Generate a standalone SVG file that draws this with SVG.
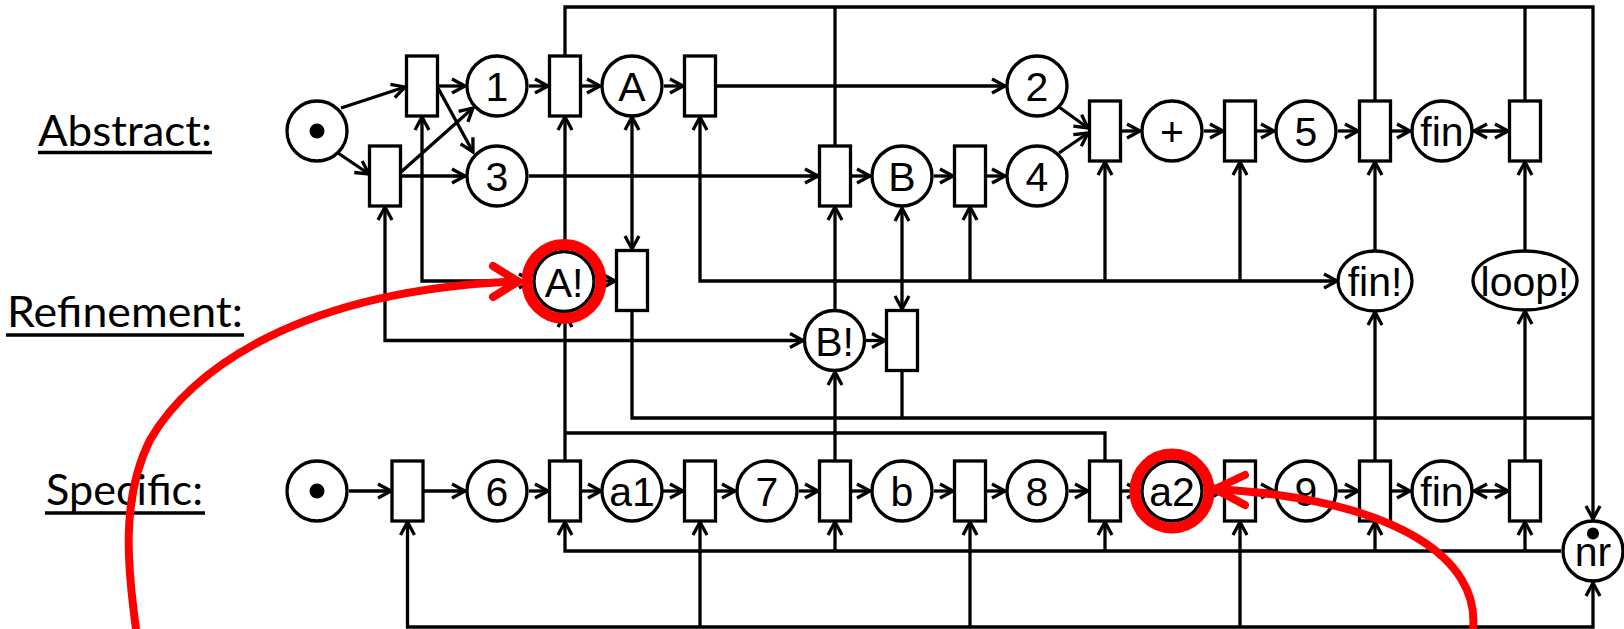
<svg xmlns="http://www.w3.org/2000/svg" width="1624" height="629" viewBox="0 0 1624 629">
<style>
.t{fill:#fff;stroke:#000;stroke-width:3.3}
.p{fill:#fff;stroke:#000;stroke-width:3.3}
.c{fill:none;stroke:#000;stroke-width:3.3}
.l{font-family:"Liberation Sans",Arial,sans-serif;font-size:41px;text-anchor:middle;fill:#000}
.hd{font-family:Lato,"Open Sans",sans-serif;font-size:42px;fill:#000}
.ul{stroke:#000;stroke-width:3.5}
.r{fill:none;stroke:#f00;stroke-width:11}
.rc{fill:none;stroke:#f00;stroke-width:8;stroke-linecap:round;stroke-linejoin:round}
</style>
<defs>
<marker id="a" viewBox="-16 -10 20 20" refX="0" refY="0" markerWidth="20" markerHeight="20" markerUnits="userSpaceOnUse" orient="auto-start-reverse" overflow="visible">
<path d="M-13,-7 L0,0 L-13,7" fill="none" stroke="#000" stroke-width="3.3"/>
</marker>
</defs>
<rect width="1624" height="629" fill="#fff"/>

<g id="labels">
<text class="hd" x="38" y="146" textLength="174" lengthAdjust="spacingAndGlyphs">Abstract:</text>
<line class="ul" x1="38" y1="152.5" x2="212" y2="152.5"/>
<text class="hd" x="7" y="327" textLength="236" lengthAdjust="spacingAndGlyphs">Refinement:</text>
<line class="ul" x1="6" y1="335" x2="244" y2="335"/>
<text class="hd" x="46" y="505" textLength="157" lengthAdjust="spacingAndGlyphs">Specific:</text>
<line class="ul" x1="45" y1="513" x2="205" y2="513"/>
</g>

<g id="connectors" class="c">
<path d="M341,108 L405,87" marker-end="url(#a)"/>
<path d="M338,153 L369,174" marker-end="url(#a)"/>
<path d="M438,86 H465" marker-end="url(#a)"/>
<path d="M438,88 L473,152" marker-end="url(#a)"/>
<path d="M401,172 L473,108" marker-end="url(#a)"/>
<path d="M401,176 H465" marker-end="url(#a)"/>
<path d="M529,86 H548" marker-end="url(#a)"/>
<path d="M581,86 H600" marker-end="url(#a)"/>
<path d="M664,86 H683" marker-end="url(#a)"/>
<path d="M716,86 H1005" marker-end="url(#a)"/>
<path d="M529,176 H818" marker-end="url(#a)"/>
<path d="M851,176 H870" marker-end="url(#a)"/>
<path d="M934,176 H953" marker-end="url(#a)"/>
<path d="M986,176 H1005" marker-end="url(#a)"/>
<path d="M1059,107 L1088,128" marker-end="url(#a)"/>
<path d="M1059,153 L1088,133" marker-end="url(#a)"/>
<path d="M1121,131 H1140" marker-end="url(#a)"/>
<path d="M1204,131 H1223" marker-end="url(#a)"/>
<path d="M1256,131 H1274" marker-end="url(#a)"/>
<path d="M1338,131 H1358" marker-end="url(#a)"/>
<path d="M1391,131 H1410" marker-end="url(#a)"/>
<path d="M1474,131 H1508" marker-start="url(#a)" marker-end="url(#a)"/>

<path d="M565,56 V7 H1593 V519" marker-end="url(#a)"/>
<path d="M835,146 V7"/>
<path d="M1375,101 V7"/>
<path d="M1525,101 V7"/>

<path d="M422,117 V281 H532" marker-start="url(#a)" marker-end="url(#a)"/>
<path d="M385,207 V340.5 H803" marker-start="url(#a)" marker-end="url(#a)"/>
<path d="M565,250 V117" marker-end="url(#a)"/>
<path d="M565,460 V314" marker-end="url(#a)"/>
<path d="M565,433 H1105 V460"/>
<path d="M632,117 V249" marker-start="url(#a)" marker-end="url(#a)"/>
<path d="M596,281 H615" marker-end="url(#a)"/>
<path d="M632,311 V418 H1593"/>
<path d="M700,117 V281 H1337" marker-start="url(#a)" marker-end="url(#a)"/>
<path d="M970,281 V207" marker-end="url(#a)"/>
<path d="M1105,281 V162" marker-end="url(#a)"/>
<path d="M1240,281 V162" marker-end="url(#a)"/>
<path d="M835,309 V207" marker-end="url(#a)"/>
<path d="M902,208 V309" marker-start="url(#a)" marker-end="url(#a)"/>
<path d="M866,340.5 H885" marker-end="url(#a)"/>
<path d="M902,372 V418"/>
<path d="M835,460 V372" marker-end="url(#a)"/>
<path d="M1375,250 V162" marker-end="url(#a)"/>
<path d="M1525,251 V162" marker-end="url(#a)"/>
<path d="M1375,460 V312" marker-end="url(#a)"/>
<path d="M1525,460 V311" marker-end="url(#a)"/>

<path d="M349,491 H391" marker-end="url(#a)"/>
<path d="M424,491 H465" marker-end="url(#a)"/>
<path d="M529,491 H548" marker-end="url(#a)"/>
<path d="M581,491 H601" marker-end="url(#a)"/>
<path d="M663,491 H683" marker-end="url(#a)"/>
<path d="M716,491 H735" marker-end="url(#a)"/>
<path d="M799,491 H818" marker-end="url(#a)"/>
<path d="M851,491 H870" marker-end="url(#a)"/>
<path d="M934,491 H953" marker-end="url(#a)"/>
<path d="M986,491 H1005" marker-end="url(#a)"/>
<path d="M1069,491 H1088" marker-end="url(#a)"/>
<path d="M1121,491 H1140" marker-end="url(#a)"/>
<path d="M1204,491 H1223" marker-end="url(#a)"/>
<path d="M1256,491 H1274" marker-end="url(#a)"/>
<path d="M1338,491 H1358" marker-end="url(#a)"/>
<path d="M1391,491 H1410" marker-end="url(#a)"/>
<path d="M1474,491 H1508" marker-start="url(#a)" marker-end="url(#a)"/>

<path d="M1561,551 H565 V522" marker-end="url(#a)"/>
<path d="M835,551 V522" marker-end="url(#a)"/>
<path d="M1105,551 V522" marker-end="url(#a)"/>
<path d="M1375,551 V522" marker-end="url(#a)"/>
<path d="M1525,551 V522" marker-end="url(#a)"/>
<path d="M407.5,522 V627 H1593 V583" marker-start="url(#a)" marker-end="url(#a)"/>
<path d="M700,627 V522" marker-end="url(#a)"/>
<path d="M970,627 V522" marker-end="url(#a)"/>
<path d="M1240,627 V522" marker-end="url(#a)"/>
</g>

<g id="abs-start"><circle class="p" cx="317" cy="131" r="30"/><circle cx="317" cy="131" r="7.5"/></g>
<g id="abs-t1"><rect class="t" x="406.5" y="56" width="31" height="60"/></g>
<g id="abs-t2"><rect class="t" x="369.5" y="146" width="31" height="60"/></g>
<g id="abs-p1"><circle class="p" cx="497" cy="86" r="30"/><text class="l" x="497" y="101">1</text></g>
<g id="abs-p3"><circle class="p" cx="497" cy="176" r="30"/><text class="l" x="497" y="191">3</text></g>
<g id="abs-t3"><rect class="t" x="549.5" y="56" width="31" height="60"/></g>
<g id="abs-pA"><circle class="p" cx="632" cy="86" r="30"/><text class="l" x="632" y="101">A</text></g>
<g id="abs-t4"><rect class="t" x="684.5" y="56" width="31" height="60"/></g>
<g id="abs-p2"><circle class="p" cx="1037" cy="86" r="30"/><text class="l" x="1037" y="101">2</text></g>
<g id="abs-t5"><rect class="t" x="819.5" y="146" width="31" height="60"/></g>
<g id="abs-pB"><circle class="p" cx="902" cy="176" r="30"/><text class="l" x="902" y="191">B</text></g>
<g id="abs-t6"><rect class="t" x="954.5" y="146" width="31" height="60"/></g>
<g id="abs-p4"><circle class="p" cx="1037" cy="176" r="30"/><text class="l" x="1037" y="191">4</text></g>
<g id="abs-t7"><rect class="t" x="1089.5" y="101" width="31" height="60"/></g>
<g id="abs-pplus"><circle class="p" cx="1172" cy="131" r="30"/><text class="l" x="1172" y="146">+</text></g>
<g id="abs-t8"><rect class="t" x="1224.5" y="101" width="31" height="60"/></g>
<g id="abs-p5"><circle class="p" cx="1306" cy="131" r="30"/><text class="l" x="1306" y="146">5</text></g>
<g id="abs-t9"><rect class="t" x="1359.5" y="101" width="31" height="60"/></g>
<g id="abs-pfin"><circle class="p" cx="1442" cy="131" r="30"/><text class="l" x="1442" y="146">fin</text></g>
<g id="abs-t10"><rect class="t" x="1509.5" y="101" width="31" height="60"/></g>

<g id="ref-A"><circle class="p" cx="564" cy="281.5" r="30"/><text class="l" x="564" y="296.5">A!</text></g>
<g id="ref-tA"><rect class="t" x="616.5" y="250.5" width="31" height="60"/></g>
<g id="ref-B"><circle class="p" cx="834.5" cy="340.5" r="30"/><text class="l" x="834.5" y="355.5">B!</text></g>
<g id="ref-tB"><rect class="t" x="886.5" y="310.5" width="31" height="60"/></g>
<g id="ref-fin"><ellipse class="p" cx="1375" cy="281" rx="37" ry="30"/><text class="l" x="1375" y="296">fin!</text></g>
<g id="ref-loop"><ellipse class="p" cx="1525" cy="280.5" rx="52" ry="29.5"/><text class="l" x="1525" y="295.5">loop!</text></g>

<g id="sp-start"><circle class="p" cx="317" cy="491" r="30"/><circle cx="317" cy="491" r="7.5"/></g>
<g id="sp-t1"><rect class="t" x="392" y="461" width="31" height="60"/></g>
<g id="sp-p6"><circle class="p" cx="497" cy="491" r="30"/><text class="l" x="497" y="506">6</text></g>
<g id="sp-t2"><rect class="t" x="549.5" y="461" width="31" height="60"/></g>
<g id="sp-a1"><circle class="p" cx="632" cy="491" r="30"/><text class="l" x="632" y="506">a1</text></g>
<g id="sp-t3"><rect class="t" x="684.5" y="461" width="31" height="60"/></g>
<g id="sp-p7"><circle class="p" cx="767" cy="491" r="30"/><text class="l" x="767" y="506">7</text></g>
<g id="sp-t4"><rect class="t" x="819.5" y="461" width="31" height="60"/></g>
<g id="sp-b"><circle class="p" cx="902" cy="491" r="30"/><text class="l" x="902" y="506">b</text></g>
<g id="sp-t5"><rect class="t" x="954.5" y="461" width="31" height="60"/></g>
<g id="sp-p8"><circle class="p" cx="1037" cy="491" r="30"/><text class="l" x="1037" y="506">8</text></g>
<g id="sp-t6"><rect class="t" x="1089.5" y="461" width="31" height="60"/></g>
<g id="sp-a2"><circle class="p" cx="1172" cy="491" r="30"/><text class="l" x="1172" y="506">a2</text></g>
<g id="sp-t7"><rect class="t" x="1224.5" y="461" width="31" height="60"/></g>
<g id="sp-p9"><circle class="p" cx="1306" cy="491" r="30"/><text class="l" x="1306" y="506">9</text></g>
<g id="sp-t9"><rect class="t" x="1359.5" y="461" width="31" height="60"/></g>
<g id="sp-fin"><circle class="p" cx="1442" cy="491" r="30"/><text class="l" x="1442" y="506">fin</text></g>
<g id="sp-t10"><rect class="t" x="1509.5" y="461" width="31" height="60"/></g>
<g id="sp-nr"><circle class="p" cx="1593" cy="551" r="30"/><circle cx="1593" cy="533.5" r="6"/><text class="l" x="1593" y="566">nr</text></g>

<g id="highlights">
<circle class="r" cx="564" cy="281.5" r="37"/>
<circle class="r" cx="1172" cy="491" r="37"/>
<path class="rc" d="M136,629 C128,570 120,500 150,440 C190,370 300,290 518,281.5"/>
<polyline class="rc" points="493,266 518,281.5 493,297"/>
<path class="rc" d="M1473,629 C1480,560 1400,500 1215,489"/>
<polyline class="rc" points="1245,475 1215,489 1245,505"/>
</g>
</svg>
